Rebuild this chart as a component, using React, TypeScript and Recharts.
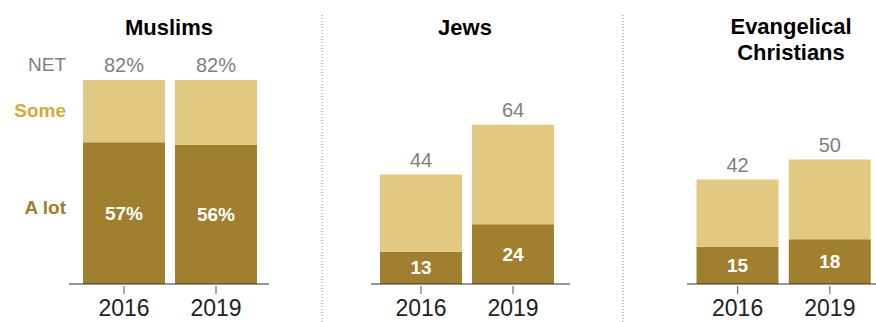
import React from 'react';
import { BarChart, Bar, XAxis, YAxis, LabelList } from 'recharts';

const years = ['2016', '2019'];
const muslimsALot = [57, 56];
const muslimsNet = [82, 82];
const jewsALot = [13, 24];
const jewsNet = [44, 64];
const evangALot = [15, 18];
const evangNet = [42, 50];

const DARK = '#A07F2F';
const LIGHT = '#E2C982';
const SOME_TEXT = '#D3AB3C';
const ALOT_TEXT = '#9E7D2F';
const GRAY = '#7F7F7F';
const FONT = '"Liberation Sans", Arial, sans-serif';

const build = (alot: number[], net: number[]) =>
  years.map((y, i) => ({ year: y, alot: alot[i], some: net[i] - alot[i], net: net[i] }));

const YearTick = (props: any) => {
  const { x, y, payload } = props;
  return (
    <g>
      <line x1={x} x2={x} y1={y + 2} y2={y + 10} stroke="#555" strokeWidth={1} />
      <text x={x} y={y + 32} textAnchor="middle" fontSize={23} fill="#222" fontFamily={FONT}>
        {payload.value}
      </text>
    </g>
  );
};

const makeInner = (pct: boolean) => (props: any) => {
  const { x, y, width, height, value } = props;
  return (
    <text
      x={x + width / 2}
      y={y + height / 2 + 6.5}
      textAnchor="middle"
      fontSize={19}
      fontWeight="bold"
      fill="#fff"
      fontFamily={FONT}
    >
      {pct ? `${value}%` : value}
    </text>
  );
};

const makeNet = (pct: boolean) => (props: any) => {
  const { x, y, width, value } = props;
  return (
    <text x={x + width / 2} y={y - 8} textAnchor="middle" fontSize={20} fill={GRAY} fontFamily={FONT}>
      {pct ? `${value}%` : value}
    </text>
  );
};

type PanelProps = {
  left: number;
  width: number;
  padL: number;
  padR: number;
  data: any[];
  pct: boolean;
};

const Panel = ({ left, width, padL, padR, data, pct }: PanelProps) => (
  <div style={{ position: 'absolute', left, top: 0 }}>
    <BarChart
      width={width}
      height={322}
      data={data}
      margin={{ top: 35.2, right: 0, bottom: 0, left: 0 }}
      barSize={82}
    >
      <XAxis
        dataKey="year"
        height={38}
        padding={{ left: padL, right: padR }}
        axisLine={{ stroke: '#333', strokeWidth: 1.2 }}
        tickLine={false}
        tickSize={0}
        tickMargin={0}
        interval={0}
        tick={(p: any) => <YearTick {...p} />}
      />
      <YAxis hide width={0} domain={[0, 100]} />
      <Bar dataKey="alot" stackId="a" fill={DARK} isAnimationActive={false}>
        <LabelList dataKey="alot" content={makeInner(pct)} />
      </Bar>
      <Bar dataKey="some" stackId="a" fill={LIGHT} isAnimationActive={false}>
        <LabelList dataKey="net" content={makeNet(pct)} />
      </Bar>
    </BarChart>
  </div>
);

export default function App() {
  return (
    <div
      style={{
        position: 'absolute',
        left: 0,
        top: 0,
        width: 876,
        height: 322,
        background: '#fff',
        overflow: 'hidden',
        fontFamily: FONT,
      }}
    >
      <Panel left={69} width={200} padL={9} padR={7} data={build(muslimsALot, muslimsNet)} pct={true} />
      <Panel left={371} width={199} padL={4} padR={11} data={build(jewsALot, jewsNet)} pct={false} />
      <Panel left={687} width={189} padL={4.5} padR={0} data={build(evangALot, evangNet)} pct={false} />
      <svg
        width={876}
        height={322}
        style={{ position: 'absolute', left: 0, top: 0, pointerEvents: 'none' }}
      >
        <line x1={322} x2={322} y1={15} y2={322} stroke="#888" strokeWidth={1} strokeDasharray="1 2" />
        <line x1={623} x2={623} y1={15} y2={322} stroke="#888" strokeWidth={1} strokeDasharray="1 2" />
        <text x={169} y={34.5} textAnchor="middle" fontSize={22} fontWeight="bold" fill="#000" fontFamily={FONT}>
          Muslims
        </text>
        <text x={465} y={34.5} textAnchor="middle" fontSize={22} fontWeight="bold" fill="#000" fontFamily={FONT}>
          Jews
        </text>
        <text x={791} y={34} textAnchor="middle" fontSize={22} fontWeight="bold" fill="#000" fontFamily={FONT}>
          Evangelical
        </text>
        <text x={791} y={60} textAnchor="middle" fontSize={22} fontWeight="bold" fill="#000" fontFamily={FONT}>
          Christians
        </text>
        <text x={66} y={71} textAnchor="end" fontSize={19} fill={GRAY} fontFamily={FONT}>
          NET
        </text>
        <text x={66} y={117} textAnchor="end" fontSize={19} fontWeight="bold" fill={SOME_TEXT} fontFamily={FONT}>
          Some
        </text>
        <text x={66} y={214} textAnchor="end" fontSize={19} fontWeight="bold" fill={ALOT_TEXT} fontFamily={FONT}>
          A lot
        </text>
      </svg>
    </div>
  );
}
